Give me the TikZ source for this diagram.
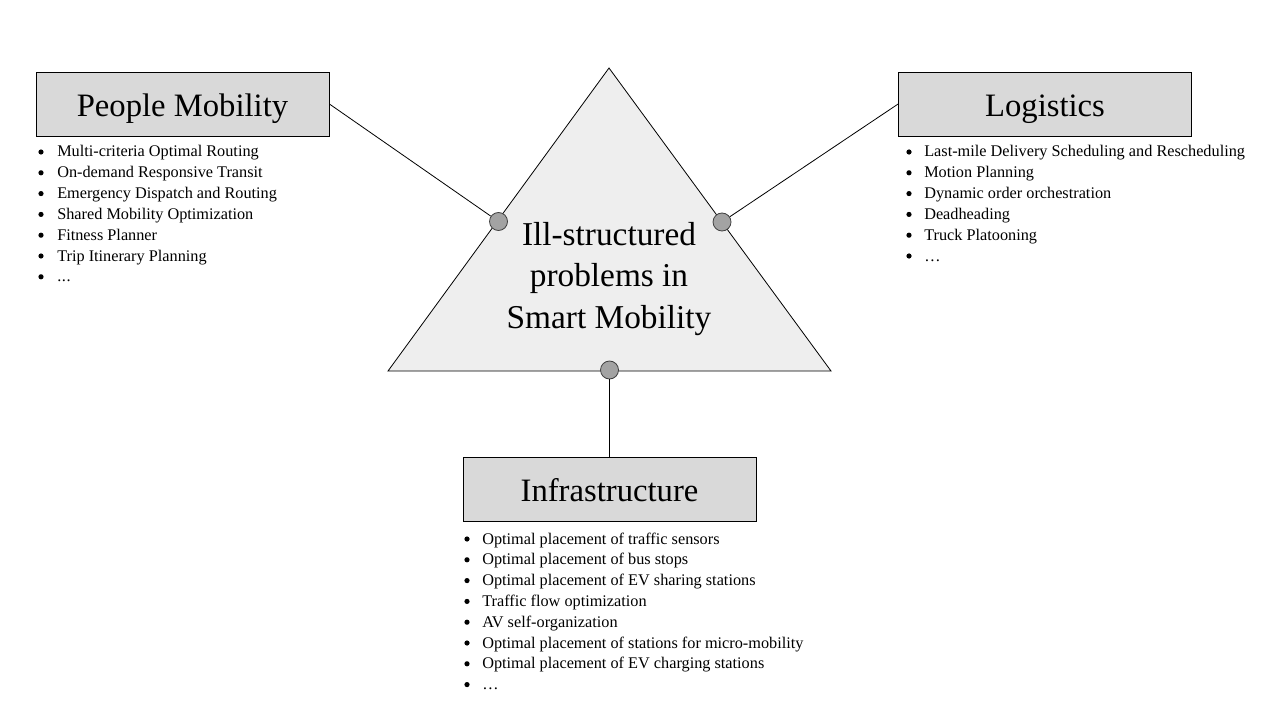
\documentclass[tikz,border=0pt]{standalone}
\usepackage{fontspec}
\setmainfont{Liberation Serif}
\begin{document}
\begin{tikzpicture}[x=0.75pt,y=-0.75pt,
  catbox/.style={draw=black,line width=0.6pt,fill=boxgray,minimum width=293*0.75pt,minimum height=64*0.75pt,inner sep=0pt},
  cattext/.style={anchor=base,inner sep=0pt,font=\fontsize{24.5}{28}\selectfont},
  joint/.style={circle,draw=black!75,line width=0.6pt,fill=jointgray,minimum size=18*0.75pt,inner sep=0pt},
  link/.style={draw=black,line width=0.6pt},
  item/.style={anchor=base west,inner sep=0pt,font=\fontsize{12.2}{14}\selectfont},
  dot/.style={fill=black}]
\definecolor{boxgray}{HTML}{D9D9D9}
\definecolor{trigray}{HTML}{EEEEEE}
\definecolor{jointgray}{HTML}{A3A3A3}
\useasboundingbox (0,0) rectangle (1280,720);
\fill[white] (0,0) rectangle (1280,720);
% triangle
\coordinate (tA) at (609,68);
\coordinate (tL) at (388,371);
\coordinate (tR) at (831,371);
\draw[line width=0.6pt,fill=trigray] (tA) -- (tR) -- (tL) -- cycle;
\node[align=center,font=\fontsize{25}{31}\selectfont] (center) at (609,279) {Ill-structured\\problems in\\Smart Mobility};
% boxes
\node[catbox] (people) at (182.5,104) {};
\node[catbox] (logi) at (1045,104) {};
\node[catbox] (infra) at (609.5,489) {};
\node[cattext] (peopleT) at (182.5,116.5) {People Mobility};
\node[cattext] (logiT) at (1045,116.5) {Logistics};
\node[cattext] (infraT) at (609.5,501.5) {Infrastructure};
% joints
\node[joint] (jp) at (498.5,221.5) {};
\node[joint] (jl) at (722,222) {};
\node[joint] (ji) at (609.5,370) {};
\draw[link] (people.east) -- (jp);
\draw[link] (logi.west) -- (jl);
\draw[link] (infra.north) -- (ji);
% people list
\foreach \t [count=\i] in {Multi-criteria Optimal Routing,On-demand Responsive Transit,Emergency Dispatch and Routing,Shared Mobility Optimization,Fitness Planner,Trip Itinerary Planning}{
  \fill[dot] (41,{152+20.8*(\i-1)}) circle (2.6);
  \node[item] (p\i) at (57,{157+20.8*(\i-1)}) {\t};
}
\fill[dot] (41,{152+20.8*6}) circle (2.6);
\node[item] (p7) at (57,{157+20.8*6}) {.\kern0.5pt.\kern0.5pt.};
% logistics list
\foreach \t [count=\i] in {Last-mile Delivery Scheduling and Rescheduling,Motion Planning,Dynamic order orchestration,Deadheading,Truck Platooning}{
  \fill[dot] (909,{152+20.8*(\i-1)}) circle (2.6);
  \node[item] (l\i) at (924,{157+20.8*(\i-1)}) {\t};
}
\fill[dot] (909,{152+20.8*5}) circle (2.6);
\node[item] (l6) at (924,{157+20.8*5}) {\char"2026};
% infrastructure list
\foreach \t [count=\i] in {Optimal placement of traffic sensors,Optimal placement of bus stops,Optimal placement of EV sharing stations,Traffic flow optimization,AV self-organization,Optimal placement of stations for micro-mobility,Optimal placement of EV charging stations}{
  \fill[dot] (467,{539+20.8*(\i-1)}) circle (2.6);
  \node[item] (i\i) at (482,{544+20.8*(\i-1)}) {\t};
}
\fill[dot] (467,{539+20.8*7}) circle (2.6);
\node[item] (i8) at (482,{544+20.8*7}) {\char"2026};
\end{tikzpicture}
\end{document}
